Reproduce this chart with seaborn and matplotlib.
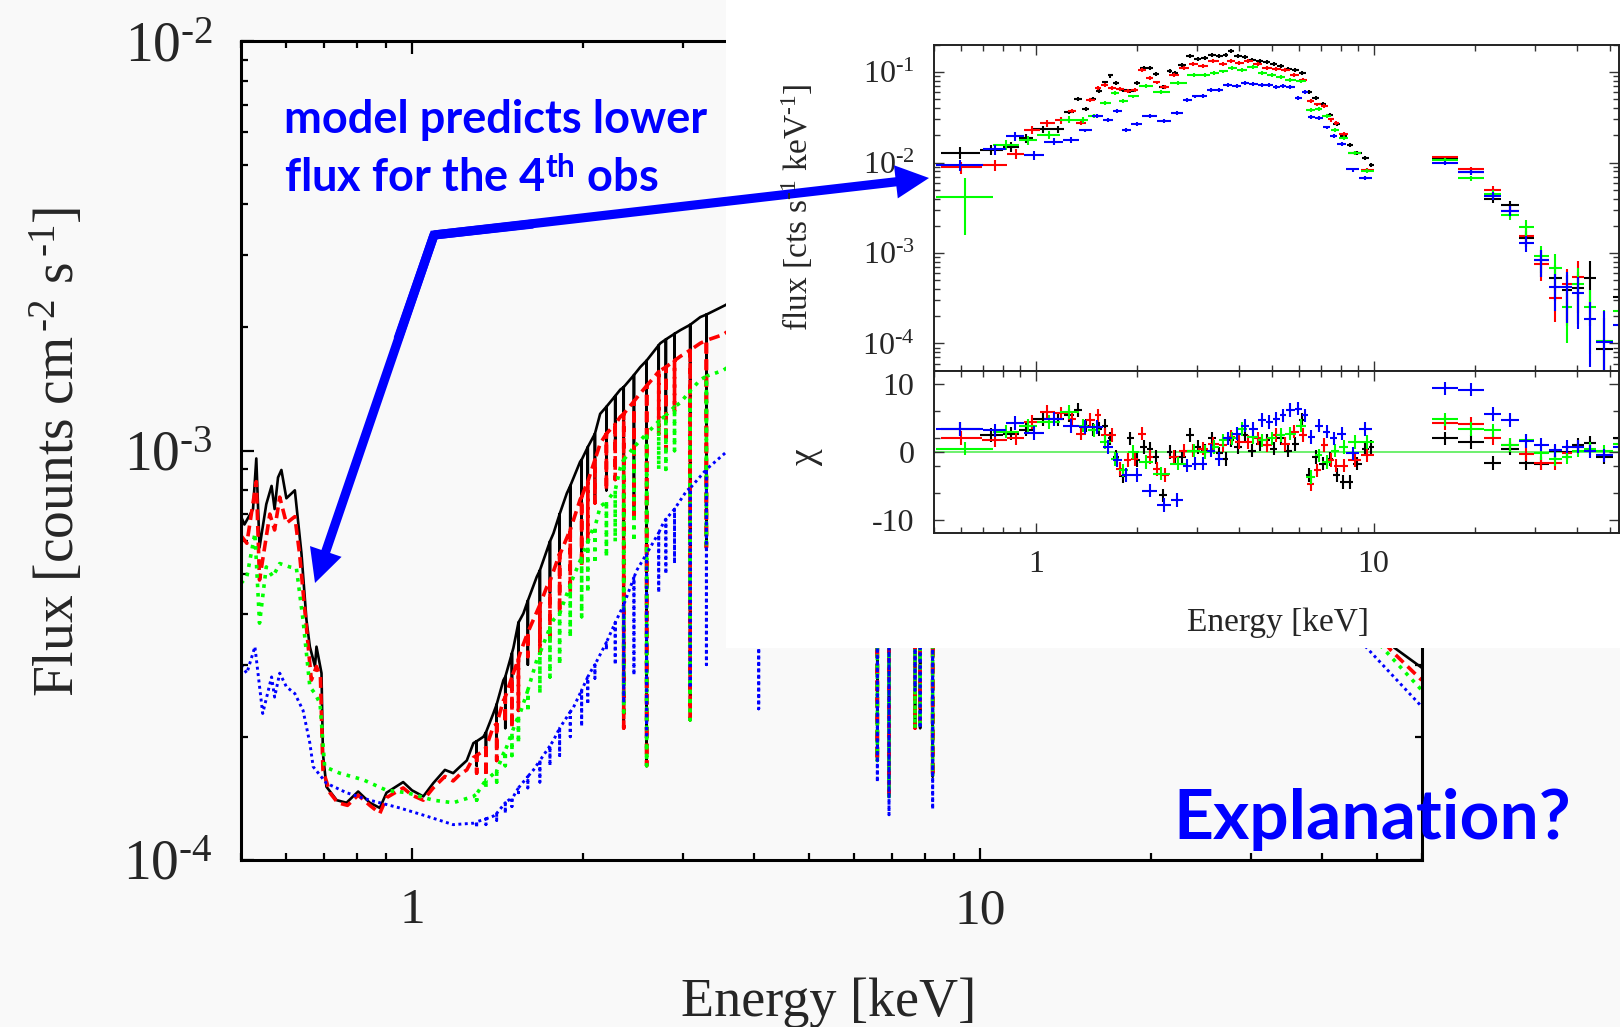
import numpy as np
import matplotlib
matplotlib.use("Agg")
import matplotlib.pyplot as plt
import seaborn as sns
from matplotlib.patches import Rectangle, FancyArrowPatch
from matplotlib.ticker import FixedLocator, NullFormatter, LogLocator

# ---------------- main panel: model curves (keV, flux in 1e-4) ----------------
e_blk = [0.50, 0.507, 0.525, 0.532, 0.539, 0.554, 0.566, 0.573, 0.581, 0.589, 0.601, 0.622, 0.639,
         0.652, 0.661, 0.675, 0.679, 0.693, 0.697, 0.707, 0.737, 0.767, 0.804, 0.843, 0.878, 0.902,
         0.965, 1.0, 1.047, 1.09, 1.143, 1.182, 1.215, 1.249, 1.283, 1.336, 1.391, 1.449, 1.509,
         1.571, 1.659, 1.775, 1.874, 1.978, 2.145, 2.328, 2.524, 2.738, 2.97, 3.22, 3.57, 4.5, 6.0,
         9.0, 15.0, 25.0, 40.0, 53.7, 60.0]
f_blk = [6.9, 6.6, 7.2, 9.57, 5.8, 7.4, 8.2, 7.2, 8.6, 8.97, 7.65, 8.0, 5.6, 3.86, 3.32, 2.97, 3.32,
         2.86, 1.82, 1.51, 1.40, 1.38, 1.47, 1.38, 1.34, 1.46, 1.55, 1.48, 1.43, 1.54, 1.66, 1.63,
         1.69, 1.75, 1.93, 2.0, 2.28, 2.75, 3.3, 4.0, 4.92, 6.28, 7.87, 9.4, 12.3, 14.1, 16.0, 18.3,
         19.7, 21.2, 22.7, 28, 32, 33, 25, 13, 5.5, 3.3, 2.95]

e_red = [0.50, 0.512, 0.532, 0.539, 0.562, 0.573, 0.585, 0.601, 0.622, 0.634, 0.652, 0.665, 0.679,
         0.69, 0.697, 0.717, 0.74, 0.77, 0.804, 0.843, 0.878, 0.902, 0.965, 1.0, 1.047, 1.09, 1.143,
         1.182, 1.215, 1.249, 1.283, 1.336, 1.391, 1.449, 1.55, 1.729, 1.824, 1.899, 1.978, 2.03,
         2.145, 2.328, 2.524, 2.738, 2.97, 3.22, 3.53, 4.5, 6.0, 9.0, 15.0, 25.0, 40.0, 53.0, 60.0]
f_red = [6.2, 5.94, 8.4, 4.83, 7.0, 6.4, 7.7, 6.65, 6.9, 5.6, 3.7, 2.75, 2.97, 2.8, 1.66, 1.46, 1.38,
         1.36, 1.44, 1.36, 1.30, 1.42, 1.50, 1.44, 1.40, 1.50, 1.60, 1.56, 1.62, 1.66, 1.78, 1.85,
         2.12, 2.45, 3.2, 4.66, 5.6, 6.4, 7.6, 8.3, 10.4, 12.1, 13.8, 15.7, 17.0, 18.3, 19.2, 24, 28,
         30, 23, 12, 5.2, 3.25, 2.75]

e_grn = [0.50, 0.512, 0.529, 0.539, 0.554, 0.569, 0.585, 0.609, 0.626, 0.643, 0.661, 0.675, 0.689,
         0.702, 0.746, 0.821, 0.902, 0.98, 1.09, 1.182, 1.283, 1.354, 1.449, 1.55, 1.659, 1.775,
         1.925, 2.088, 2.145, 2.328, 2.524, 2.738, 2.97, 3.22, 3.53, 4.5, 6.0, 9.0, 15.0, 25.0, 40.0,
         51.2, 60.0]
f_grn = [4.74, 4.92, 6.28, 3.79, 5.2, 4.92, 5.3, 5.2, 5.16, 3.86, 2.65, 2.55, 2.41, 1.69, 1.63,
         1.57, 1.48, 1.46, 1.40, 1.38, 1.43, 1.57, 1.82, 2.28, 3.08, 3.86, 4.92, 6.5, 7.3, 9.1, 10.6,
         11.9, 13.1, 14.9, 15.7, 20, 24, 27, 21, 11, 5.0, 3.3, 2.6]

e_blu = [0.50, 0.512, 0.529, 0.546, 0.566, 0.573, 0.585, 0.601, 0.622, 0.643, 0.661, 0.67, 0.707,
         0.767, 0.843, 0.952, 1.061, 1.182, 1.283, 1.391, 1.509, 1.637, 1.775, 1.925, 2.088, 2.265,
         2.488, 2.77, 3.05, 3.45, 3.6, 4.5, 6.0, 9.0, 15.0, 25.0, 40.0, 48.0, 60.0]
f_blu = [2.99, 2.86, 3.32, 2.28, 2.8, 2.5, 2.86, 2.65, 2.55, 2.32, 1.93, 1.69, 1.54, 1.46, 1.40,
         1.34, 1.28, 1.22, 1.23, 1.28, 1.43, 1.66, 1.96, 2.36, 2.97, 3.72, 5.1, 6.65, 8.0, 9.5, 10.0,
         13, 17, 20, 16, 8.5, 4.2, 3.3, 2.37]

# absorption lines: energy, flux just above the line, flux at the bottom (1e-4)
dip_e = [1.30, 1.41, 1.46, 1.54, 1.60, 1.68, 1.82, 1.99, 2.10, 2.20, 2.36, 2.46, 2.59, 2.80, 3.09,
         3.30, 4.08, 6.60, 6.92, 7.69, 7.85, 8.26,
         1.35, 1.50, 1.75, 1.90, 2.04, 2.28, 2.72, 2.90]
top_blk = [1.95, 2.4, 2.8, 3.8, 4.3, 5.1, 7.0, 9.5, 11.0, 12.8, 14.3, 15.3, 16.6, 18.7, 20.3, 21.5,
           26, 30, 31, 32, 32, 32.5,
           2.05, 3.2, 6.0, 8.2, 10.2, 13.6, 18.1, 19.3]
bot_blk = [1.7, 1.9, 2.1, 2.5, 3.0, 3.4, 5.0, 5.5, 7.5, 8.0, 2.1, 6.9, 1.7, 12, 2.2, 5.8, 20, 1.75,
           1.43, 2.1, 2.1, 1.6,
           1.8, 2.6, 4.5, 6.2, 7.5, 10.5, 14, 15]
top_red = [1.8, 2.15, 2.5, 3.1, 3.6, 4.2, 5.6, 7.7, 9.5, 11.0, 12.3, 13.2, 14.4, 16.0, 17.6, 18.6,
           22, 27, 28, 29, 29, 29.5,
           1.88, 2.8, 4.8, 6.4, 8.4, 11.6, 15.6, 16.6]
bot_red = [1.63, 1.75, 2.16, 2.32, 3.14, 3.2, 4.0, 5.2, 7.45, 8.0, 2.1, 6.9, 1.7, 10, 2.2, 5.8, 18,
           1.75, 1.43, 2.1, 2.1, 1.6,
           1.6, 2.1, 3.4, 4.5, 6.0, 8.5, 11, 12.5]
top_grn = [1.45, 1.65, 1.85, 2.25, 2.6, 3.2, 4.0, 5.5, 6.5, 7.5, 9.5, 10.2, 11.0, 12.2, 14.0, 15.2,
           18, 24, 25, 26, 26, 26.5,
           1.57, 2.05, 3.7, 4.7, 6.0, 8.0, 11.8, 12.8]
bot_grn = [1.4, 1.55, 1.7, 1.93, 2.3, 2.55, 3.0, 3.93, 5.3, 5.5, 2.3, 6.0, 1.7, 9, 2.2, 5.8, 15,
           1.75, 1.43, 2.1, 2.1, 1.6,
           1.5, 1.8, 2.8, 3.5, 4.5, 6.0, 9.0, 10]
top_blu = [1.24, 1.3, 1.38, 1.5, 1.6, 1.75, 2.1, 2.6, 3.0, 3.4, 4.2, 4.9, 5.6, 6.8, 8.1, 9.0, 11.5,
           17, 17.5, 18.5, 18.5, 19,
           1.26, 1.42, 1.9, 2.3, 2.8, 3.8, 6.3, 7.2]
bot_blu = [1.2, 1.25, 1.3, 1.46, 1.5, 1.55, 1.8, 2.12, 2.78, 3.26, 2.42, 2.83, 2.02, 5.0, 2.63, 3.0,
           2.34, 1.55, 1.29, 2.6, 2.1, 1.33,
           1.22, 1.35, 1.7, 2.0, 2.4, 3.0, 4.5, 5.3]

# ---------------- inset: XIS bins (edges keV), flux, chi ----------------
xis_edges_blk = [0.523, 0.682, 0.80, 0.89, 0.98, 1.12, 1.21, 1.30, 1.375, 1.44, 1.51, 1.575, 1.635,
                 1.695, 1.765, 1.86, 1.955, 2.04, 2.135, 2.22, 2.32, 2.445, 2.54, 2.63, 2.78, 2.95,
                 3.095, 3.245, 3.41, 3.585, 3.715, 3.87, 4.07, 4.265, 4.49, 4.72, 4.95, 5.19, 5.44,
                 5.72, 6.02, 6.31, 6.585, 6.9, 7.255, 7.605, 7.97, 8.325, 8.72, 9.22, 9.68, 10.0]
xis_flux_blk = [1.29e-2, 1.38e-2, 1.5e-2, 1.86e-2, 2.34e-2, 2.34e-2, 3.6e-2, 5.06e-2, 3.9e-2,
                5.06e-2, 6.15e-2, 7.7e-2, 9.2e-2, 7.6e-2, 6.4e-2, 6.25e-2, 7.6e-2, 0.112, 0.112,
                9.6e-2, 6.9e-2, 0.104, 0.098, 0.12, 0.15, 0.14, 0.145, 0.157, 0.153, 0.157, 0.171,
                0.15, 0.148, 0.138, 0.132, 0.13, 0.122, 0.117, 0.109, 0.107, 0.098, 6.0e-2, 5.2e-2,
                4.49e-2, 3.39e-2, 2.69e-2, 1.98e-2, 1.57e-2, 1.29e-2, 1.12e-2, 9.4e-3]
xis_chi_blk = [3.4, 2.5, 2.7, 3.3, 4.9, 4.9, 5.4, 6.2, 3.9, 3.3, 3.4, 3.8, 2.0, -0.7, -3.6, 2.0,
               -1.2, 0.7, 0.5, -0.7, -6.4, 0.0, -0.7, -0.7, 2.5, 0.7, 0.2, 2.0, -0.2, -1.0, 1.7, 0.7,
               2.5, 0.2, 1.2, 1.7, 0.5, 2.0, 0.2, 1.2, 4.7, -3.4, -0.7, -1.7, -1.0, -3.4, -4.4, -4.4,
               -1.7, 0.5, 0.7]

xis_edges_red = [0.523, 0.693, 0.823, 0.925, 1.03, 1.14, 1.245, 1.315, 1.41, 1.495, 1.565, 1.64,
                 1.73, 1.83, 1.92, 2.01, 2.125, 2.225, 2.335, 2.48, 2.665, 2.84, 3.02, 3.24, 3.48,
                 3.69, 3.895, 4.13, 4.4, 4.685, 4.99, 5.31, 5.65, 6.02, 6.36, 6.665, 6.985, 7.32,
                 7.615, 7.91, 8.43, 9.19, 10.0]
xis_flux_red = [8.9e-3, 9.4e-3, 1.25e-2, 2.31e-2, 2.73e-2, 2.93e-2, 3.69e-2, 2.73e-2, 4.97e-2,
                6.7e-2, 7.3e-2, 6.7e-2, 6.5e-2, 6.15e-2, 6.4e-2, 0.107, 8.65e-2, 7.7e-2, 6.9e-2,
                9.4e-2, 0.112, 0.122, 0.117, 0.132, 0.122, 0.132, 0.127, 0.132, 0.122, 0.112, 0.109,
                0.105, 9.4e-2, 8.3e-2, 4.8e-2, 4.4e-2, 4.2e-2, 3.0e-2, 2.73e-2, 2.08e-2, 1.29e-2,
                8.3e-3]
xis_chi_red = [2.1, 1.8, 2.0, 4.4, 5.9, 5.7, 4.9, 2.7, 4.7, 5.4, 2.5, 2.5, -2.5, -1.2, -1.0, 2.7,
               -0.7, -2.5, -3.4, -0.7, 0.2, 0.2, 0.5, 1.2, 1.0, 2.2, 1.5, 1.5, 2.0, 1.0, 2.5, 1.2,
               3.0, 2.5, -4.7, -2.7, 1.0, -1.2, -2.0, -2.0, -1.2, -0.5]

xis_edges_grn = [0.507, 0.75, 0.89, 1.01, 1.18, 1.34, 1.425, 1.545, 1.67, 1.77, 1.87, 2.02, 2.22,
                 2.49, 2.81, 3.07, 3.27, 3.48, 3.7, 3.94, 4.23, 4.545, 4.84, 5.15, 5.48, 5.88, 6.33,
                 6.71, 7.06, 7.49, 7.91, 8.43, 9.19, 10.0]
xis_flux_grn = [4.19e-3, 1.57e-2, 1.78e-2, 2.03e-2, 2.98e-2, 2.98e-2, 3.3e-2, 4.56e-2, 5.89e-2,
                4.8e-2, 5.4e-2, 7.1e-2, 6.0e-2, 7.6e-2, 9.4e-2, 9.4e-2, 9.8e-2, 0.102, 0.112, 0.107,
                0.115, 9.8e-2, 9.4e-2, 8.9e-2, 8.3e-2, 7.9e-2, 3.85e-2, 3.9e-2, 3.3e-2, 2.31e-2,
                1.87e-2, 1.27e-2, 8.1e-3]
xis_chi_grn = [0.5, 3.0, 3.9, 4.4, 5.9, 3.9, 3.2, 1.5, -1.0, -2.7, 0.0, -1.5, -3.2, -1.7, 0.2, 0.0,
               0.7, 1.7, 2.0, 3.4, 2.2, 1.7, 2.0, 2.5, 2.7, 3.9, -3.7, -0.5, -1.5, 0.2, 0.7, 1.5,
               1.5]

xis_edges_blu = [0.507, 0.70, 0.815, 0.925, 1.06, 1.205, 1.34, 1.465, 1.585, 1.695, 1.795, 1.91,
                 2.07, 2.28, 2.52, 2.73, 2.895, 3.045, 3.21, 3.39, 3.59, 3.82, 4.05, 4.28, 4.545,
                 4.8, 5.03, 5.27, 5.52, 5.84, 6.145, 6.385, 6.72, 7.11, 7.455, 7.795, 8.3, 9.05, 9.9]
xis_flux_blu = [9.4e-3, 1.4e-2, 1.95e-2, 1.2e-2, 1.71e-2, 1.78e-2, 2.27e-2, 3.3e-2, 2.98e-2,
                3.75e-2, 2.31e-2, 2.69e-2, 3.3e-2, 2.86e-2, 3.53e-2, 4.97e-2, 5.4e-2, 5.5e-2, 6.3e-2,
                6.4e-2, 7.3e-2, 7.0e-2, 7.6e-2, 7.4e-2, 7.3e-2, 7.3e-2, 6.9e-2, 7.0e-2, 6.9e-2,
                5.2e-2, 6.0e-2, 3.2e-2, 3.1e-2, 2.45e-2, 1.95e-2, 1.6e-2, 8.4e-3, 6.8e-3]
xis_chi_blu = [3.4, 3.2, 4.3, 2.8, 4.9, 3.8, 3.7, 3.7, 0.7, -1.2, -3.4, -3.4, -5.7, -7.8, -7.1,
               -2.0, -1.7, -1.7, 0.2, -1.0, 2.0, 2.7, 3.9, 3.4, 4.7, 4.4, 4.9, 5.4, 6.2, 6.4, 5.4,
               2.2, 3.9, 3.0, 2.0, 2.7, -0.2, 3.4]
xis_rel_err_first = [0.15, 0.13, 0.12, 0.11, 0.09, 0.08]   # first bins have larger errors
xis_rel_err = 0.05
green_first_err = [0.62, 0.6]                               # wide low green bin (down, up)

# ---------------- inset: PIN bins ----------------
pin_edges = [14.85, 17.8, 21.3, 23.9, 26.9, 29.8, 33.0, 36.2, 38.8, 42.0, 45.5, 51.0, 57.0]
pin_flux_blk = [1.1e-2, 7.8e-3, 3.94e-3, 3.36e-3, 1.46e-3, 8.4e-4, 5.3e-4, 3.9e-4, 4.1e-4, 5.25e-4,
                8.8e-5, 3.3e-4]
pin_flux_red = [1.14e-2, 8.55e-3, 5.0e-3, 2.93e-3, 1.56e-3, 7.5e-4, 3.15e-4, 4.6e-4, 5.4e-4]
pin_flux_grn = [1.08e-2, 6.75e-3, 4.5e-3, 2.64e-3, 1.93e-3, 9.3e-4, 6.9e-4, 2.55e-4, 4.6e-4,
                2.55e-4, 1.07e-4, 2.3e-4]
pin_flux_blu = [1.0e-2, 7.8e-3, 4.3e-3, 2.93e-3, 1.3e-3, 8.4e-4, 4.2e-4, 4.25e-4, 3.64e-4, 1.85e-4,
                1.05e-4, 1.6e-4]
pin_err_dn = [0.05, 0.06, 0.1, 0.12, 0.2, 0.35, 0.45, 0.6, 0.6, 0.7, 0.95, 0.95]
pin_err_up = [0.05, 0.06, 0.1, 0.12, 0.2, 0.3, 0.4, 0.45, 0.5, 0.55, 1.2, 0.8]
pin_chi_blk = [2.0, 1.5, -1.6, 0.5, -1.6, -1.7, 0.1, 0.0, 1.0, 1.4, -0.8, 2.0]
pin_chi_red = [4.3, 4.2, 2.0, 1.0, -0.3, -1.6, -1.6, -0.2, 0.8]
pin_chi_grn = [4.8, 3.4, 3.2, 1.0, 1.7, -0.2, -1.0, -0.8, 0.2, 0.5, 0.1, 1.2]
pin_chi_blu = [9.4, 9.2, 5.6, 4.7, 1.6, 1.1, 0.25, 0.8, 0.8, 0.1, -0.5, 0.8]

BLUE = "#0000ff"
obs_colors = ["black", "#ff0000", "#00ff00", BLUE]

sns.set_theme(style="ticks")
plt.rcParams["font.family"] = ["Liberation Serif", "DejaVu Serif"]
plt.rcParams["mathtext.fontset"] = "custom"
plt.rcParams["mathtext.rm"] = "Liberation Serif"
plt.rcParams["mathtext.it"] = "Liberation Serif:italic"
plt.rcParams["mathtext.sf"] = "Lato:bold"
plt.rcParams["axes.unicode_minus"] = False

fig = plt.figure(figsize=(16.2, 10.27), dpi=100, facecolor="#f9f9f9")


def with_dips(e, f, top, bot):
    xs = list(e) + [v for d in dip_e for v in (d, d, d)]
    ys = list(f) + [v for t, b in zip(top, bot) for v in (t, b, t)]
    order = np.argsort(xs, kind="stable")
    return np.array(xs)[order], np.array(ys)[order] * 1e-4


def pow_label(p):
    # hyphen-style minus as in the original plot
    return r"$10^{\text{-}%d}$" % p


# ---- main panel ----
ax = fig.add_axes([241 / 1620, 167 / 1027, 1180.7 / 1620, 818.7 / 1027], zorder=0)
ax.set_facecolor("none")
ax.set_xscale("log")
ax.set_yscale("log")
curves = [
    (e_blk, f_blk, top_blk, bot_blk, "black", "-", 1.9),
    (e_red, f_red, top_red, bot_red, "#ff0000", (0, (3, 1.6)), 2.6),
    (e_grn, f_grn, top_grn, bot_grn, "#00ff00", (0, (1, 1.6)), 2.6),
    (e_blu, f_blu, top_blu, bot_blu, BLUE, (0, (1, 1.2)), 2.1),
]
for e, f, t, b, c, ls, lw in curves:
    x, y = with_dips(e, f, t, b)
    sns.lineplot(x=x, y=y, ax=ax, estimator=None, sort=False, color=c, linestyle=ls, lw=lw)
ax.set_xlim(0.5, 60)
ax.set_ylim(1e-4, 1e-2)
ax.set_xticks([1, 10], labels=["1", "10"])
ax.set_yticks([1e-4, 1e-3, 1e-2], labels=[pow_label(4), pow_label(3), pow_label(2)])
ax.xaxis.set_minor_locator(LogLocator(base=10, subs=np.arange(2, 10)))
ax.yaxis.set_minor_locator(LogLocator(base=10, subs=np.arange(2, 10)))
ax.xaxis.set_minor_formatter(NullFormatter())
ax.yaxis.set_minor_formatter(NullFormatter())
ax.tick_params(which="both", direction="in", top=True, right=True, width=1.6, color="black")
ax.tick_params(which="major", length=9)
ax.tick_params(which="minor", length=5)
ax.tick_params(axis="x", labelsize=37, pad=20)
ax.tick_params(axis="y", labelsize=40, pad=20)
for s in ax.spines.values():
    s.set_linewidth(2.2)
    s.set_color("black")
ax.set_xlabel("")
ax.set_ylabel("")

# white panel behind the inset
fig.add_artist(Rectangle((726 / 1620, 379 / 1027), 1 - 726 / 1620, 1 - 379 / 1027,
                         transform=fig.transFigure, facecolor="white", edgecolor="none", zorder=1))

# ---- inset ----
left, width = 934 / 1620, 685 / 1620
ax_up = fig.add_axes([left, (1027 - 370.7) / 1027, width, 325.7 / 1027], zorder=2)
ax_lo = fig.add_axes([left, (1027 - 533.3) / 1027, width, 162.6 / 1027], zorder=2, sharex=ax_up)
for a in (ax_up, ax_lo):
    a.set_facecolor("white")
ax_up.set_xscale("log")
ax_up.set_yscale("log")

xis_sets = [
    (xis_edges_blk, xis_flux_blk, xis_chi_blk),
    (xis_edges_red, xis_flux_red, xis_chi_red),
    (xis_edges_grn, xis_flux_grn, xis_chi_grn),
    (xis_edges_blu, xis_flux_blu, xis_chi_blu),
]
pin_sets = [
    (pin_flux_blk, pin_chi_blk),
    (pin_flux_red, pin_chi_red),
    (pin_flux_grn, pin_chi_grn),
    (pin_flux_blu, pin_chi_blu),
]
ebar = dict(fmt="none", elinewidth=1.5, capsize=0)
for i, c in enumerate(obs_colors):
    edges, flux, chi = (np.array(v, dtype=float) for v in xis_sets[i])
    lo, hi = edges[:-1], edges[1:]
    cen = np.sqrt(lo * hi)
    rel = np.full(len(flux), xis_rel_err)
    rel[:len(xis_rel_err_first)] = xis_rel_err_first
    dn, up = rel * flux, rel * flux
    if c == "#00ff00":
        dn[0] = green_first_err[0] * flux[0]
        up[0] = green_first_err[1] * flux[0]
    ax_up.errorbar(cen, flux, xerr=[cen - lo, hi - cen], yerr=[dn, up], ecolor=c, **ebar)
    ax_lo.errorbar(cen, chi, xerr=[cen - lo, hi - cen], yerr=1.0, ecolor=c, **ebar)

    pflux, pchi = (np.array(v, dtype=float) for v in pin_sets[i])
    n = len(pflux)
    pe = np.array(pin_edges[:n + 1])
    plo, phi = pe[:-1], pe[1:]
    pcen = np.sqrt(plo * phi)
    pdn = np.array(pin_err_dn[:n]) * pflux
    pup = np.array(pin_err_up[:n]) * pflux
    ax_up.errorbar(pcen, pflux, xerr=[pcen - plo, phi - pcen], yerr=[pdn, pup], ecolor=c, **ebar)
    ax_lo.errorbar(pcen, pchi, xerr=[pcen - plo, phi - pcen], yerr=1.0, ecolor=c, **ebar)

ax_lo.axhline(0, color="#55ee55", lw=1.2, zorder=0)
ax_up.set_xlim(0.5, 53.3)
ax_up.set_ylim(5e-5, 0.2)
ax_lo.set_ylim(-12, 12)
ax_up.set_yticks([1e-4, 1e-3, 1e-2, 1e-1],
                 labels=[pow_label(4), pow_label(3), pow_label(2), pow_label(1)])
ax_up.yaxis.set_minor_locator(LogLocator(base=10, subs=np.arange(2, 10)))
ax_up.yaxis.set_minor_formatter(NullFormatter())
ax_lo.set_xticks([1, 10], labels=["1", "10"])
ax_lo.xaxis.set_minor_locator(LogLocator(base=10, subs=np.arange(2, 10)))
ax_lo.xaxis.set_minor_formatter(NullFormatter())
ax_lo.set_yticks([-10, 0, 10], labels=["-10", "0", "10"])
ax_lo.yaxis.set_minor_locator(FixedLocator([-6, -2, 2, 6]))
for a in (ax_up, ax_lo):
    a.tick_params(which="both", direction="in", top=True, right=True, width=1.0,
                  color="#333333", labelsize=23, pad=14)
    a.tick_params(which="major", length=7)
    a.tick_params(which="minor", length=4)
    for s in a.spines.values():
        s.set_linewidth(1.4)
        s.set_color("#222222")
ax_up.tick_params(axis="x", labelbottom=False)
ax_lo.tick_params(axis="x", pad=12)

# ---- overlay for labels, notes and arrows (pixel coords, y down) ----
ov = fig.add_axes([0, 0, 1, 1], zorder=10)
ov.set_xlim(0, 1620)
ov.set_ylim(1027, 0)
ov.axis("off")
ov.patch.set_alpha(0)

ov.text(829, 1016, "Energy [keV]", ha="center", va="baseline", fontsize=39)
ov.text(58, 452, r"Flux [counts cm$^{\,\text{-}2}$ s$^{\,\text{-}1}$]", rotation=90,
        ha="center", va="center", fontsize=40)
ov.text(1278, 631, "Energy [keV]", ha="center", va="baseline", fontsize=24)
ov.text(797, 207, r"flux [cts s$^{\text{-}1}$ keV$^{\text{-}1}$]", rotation=90, ha="center",
        va="center", fontsize=24)
ov.text(806, 458, "χ", rotation=90, ha="center", va="center", fontsize=27)

note = dict(family=["Lato", "DejaVu Sans"], fontweight="bold", color=BLUE, va="baseline")
ov.text(284, 133, "model predicts lower", fontsize=32.5, **note)
ov.text(284, 192, r"flux for the 4$^{\mathsf{th}}$ obs", fontsize=32.5, **note)
ov.text(1173, 839, "Explanation?", fontsize=50, **note)

# bent double-headed arrow
joint = (434, 235)
ov.plot([398, 434, 533], [339, 235, 224], color=BLUE, lw=6.6, solid_joinstyle="miter",
        solid_capstyle="butt")
for tip in [(315, 583), (929, 178)]:
    ov.add_patch(FancyArrowPatch(joint, tip,
                                 arrowstyle="simple,head_length=2.4,head_width=2.4,tail_width=0.66",
                                 mutation_scale=10, color=BLUE, lw=0, shrinkA=0, shrinkB=0))

fig.savefig("out.png", dpi=100, facecolor=fig.get_facecolor())
